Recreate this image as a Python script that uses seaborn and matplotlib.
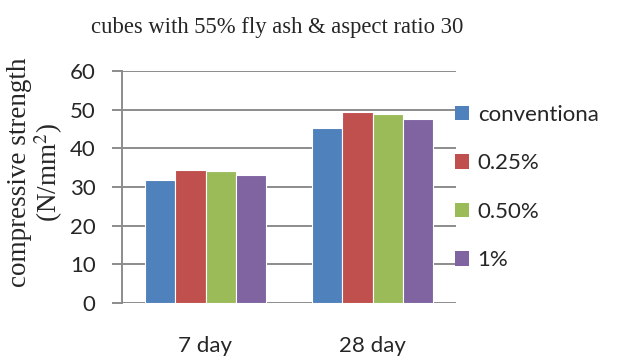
import matplotlib
matplotlib.use("Agg")
import matplotlib.pyplot as plt
from matplotlib.patches import Patch
import seaborn as sns
import pandas as pd

# Compressive strength of cubes (N/mm^2) by curing age and fibre content
ages = ["7 day", "28 day"]
mixes = ["conventiona", "0.25%", "0.50%", "1%"]
conventional = [31.8, 45.3]
fibre_025 = [34.5, 49.4]
fibre_050 = [34.1, 48.9]
fibre_100 = [33.2, 47.6]
colors = ["#4F81BD", "#C0504D", "#9BBB59", "#8064A2"]
yticks = [0, 10, 20, 30, 40, 50, 60]

series = [conventional, fibre_025, fibre_050, fibre_100]
df = pd.DataFrame(
    [(age, mix, vals[i]) for mix, vals in zip(mixes, series) for i, age in enumerate(ages)],
    columns=["age", "mix", "strength"],
)

sns.set_style("white")
plt.rcParams["mathtext.fontset"] = "stix"
sans = ["Lato", "DejaVu Sans"]
serif = ["Liberation Serif", "DejaVu Serif"]
grid_col = "#8C8C8C"

fig = plt.figure(figsize=(6.17, 3.56), dpi=100)
ax = fig.add_axes([122 / 617, 1 - 303 / 356, (456 - 122) / 617, (303 - 71) / 356])

sns.barplot(
    data=df, x="age", y="strength", hue="mix", order=ages, hue_order=mixes,
    palette=colors, width=0.73, gap=0, saturation=1, errorbar=None,
    edgecolor="white", linewidth=0.8, ax=ax, legend=False, zorder=3,
)

ax.set_ylim(0, 60)
ax.set_yticks(yticks)
ax.set_yticklabels([str(t) for t in yticks], fontfamily=sans, fontsize=16)
ax.set_xticks(range(len(ages)))
ax.set_xticklabels(ages, fontfamily=sans, fontsize=16)
ax.set_xlim(-0.5, 1.5)
ax.set_xlabel("")
ax.set_ylabel("")

ax.yaxis.grid(True, color=grid_col, linewidth=1.4, zorder=0)
ax.set_axisbelow(True)
for s in ["top", "right", "bottom"]:
    ax.spines[s].set_visible(False)
ax.spines["left"].set_color(grid_col)
ax.spines["left"].set_linewidth(1.4)
ax.tick_params(axis="y", direction="out", length=7, width=1.4, color=grid_col, pad=12, left=True)
ax.tick_params(axis="x", length=0, pad=24)

fig.text(277 / 617, 1 - 28 / 356, "cubes with 55% fly ash & aspect ratio 30",
         ha="center", va="center", fontsize=16.3, fontfamily=serif)
fig.text(36 / 617, 1 - 172 / 356, "compressive strength\n(N/mm$^2$)",
         rotation=90, ha="center", va="center", multialignment="center",
         fontsize=19.5, fontfamily=serif, linespacing=1.0)

handles = [Patch(facecolor=c, edgecolor="none") for c in colors]
fig.legend(handles, mixes, loc="upper left", bbox_to_anchor=(455 / 617, 1 - 105 / 356),
           frameon=False, prop={"family": sans, "size": 16},
           handlelength=0.62, handleheight=0.62, handletextpad=0.4,
           labelspacing=1.28, borderaxespad=0, borderpad=0)

fig.savefig("out.png", dpi=100)
